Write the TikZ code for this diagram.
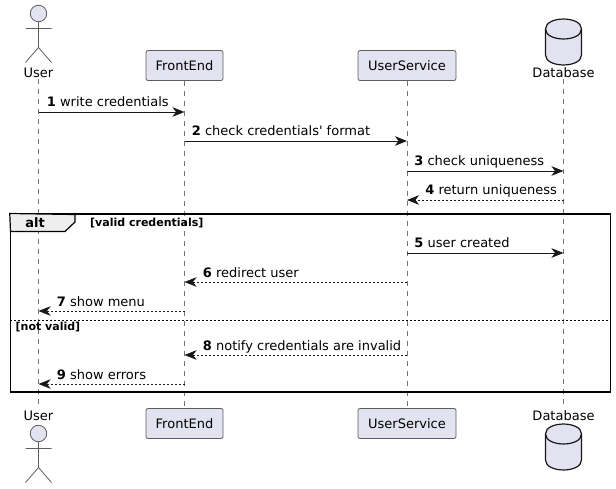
\documentclass[tikz,border=0pt]{standalone}
\usepackage{fontspec}
\setmainfont{DejaVu Sans}[Ligatures=TeXOff]
\usetikzlibrary{arrows.meta,positioning}
\definecolor{partfill}{HTML}{E2E2F0}
\definecolor{partline}{HTML}{181818}
\definecolor{tabfill}{HTML}{EEEEEE}
\begin{document}
\begin{tikzpicture}[
  x=1pt, y=-1pt,
  font=\fontsize{13pt}{15pt}\selectfont,
  part/.style={draw=partline!70, fill=partfill, rounded corners=2pt, line width=0.8pt, minimum height=30pt},
  plainlbl/.style={inner sep=1.5pt},
  lifeline/.style={draw=partline!60, line width=0.6pt, dash pattern=on 5pt off 5pt},
  msgsolid/.style={-{Stealth[length=12pt,width=9.5pt,inset=3.5pt]}, draw=partline, line width=0.8pt},
  msgdash/.style={msgsolid, dash pattern=on 2pt off 2pt},
  msglbl/.style={anchor=base west, inner sep=0pt, yshift=5pt},
  altbox/.style={draw=black, line width=1.5pt, inner sep=0pt},
  condlbl/.style={font=\fontsize{11pt}{13pt}\selectfont\bfseries, inner sep=0pt, anchor=base west},
  stickman/.pic={
    \node[circle, draw=partline!70, fill=partfill, line width=0.8pt, minimum size=16.5pt, inner sep=0pt] (-head) at (0,0) {};
    \draw[partline!70, line width=0.8pt] (-head.south) -- (0,34) (-13,15) -- (13,15) (-13,49) -- (0,34) -- (13,49);
  },
  drum/.pic={
    \draw[draw=partline, fill=partfill, line width=1.2pt] (-18,-13) .. controls (-18,-26.3) and (18,-26.3) .. (18,-13) -- (18,13) .. controls (18,26.3) and (-18,26.3) .. (-18,13) -- cycle;
    \draw[draw=partline, line width=1.2pt] (-18,-13) .. controls (-18,0.3) and (18,0.3) .. (18,-13);
  },
]
\useasboundingbox (0,0) rectangle (616,489);
% top row
\pic (usertop) at (38.5,13.5) {stickman};
\node[plainlbl] (user) at (38.5,72.5) {User};
\node[part, minimum width=77pt] (front) at (184.5,65.5) {FrontEnd};
\node[part, minimum width=98pt] (service) at (407,65.5) {UserService};
\pic (dbtop) at (563.5,42) {drum};
\node[plainlbl] (db) at (563.5,72.5) {Database};
% bottom row
\node[plainlbl] (userb) at (38.5,415.5) {User};
\pic (userbot) at (38.5,433.5) {stickman};
\node[part, minimum width=77pt] (frontb) at (184.5,423.5) {FrontEnd};
\node[part, minimum width=98pt] (serviceb) at (407,423.5) {UserService};
\node[plainlbl] (dbb) at (563.5,415.5) {Database};
\pic (dbbot) at (563.5,447) {drum};
% lifelines
\draw[lifeline] (user) -- (userb);
\draw[lifeline] (front) -- (frontb);
\draw[lifeline] (service) -- (serviceb);
\draw[lifeline] (db) -- (dbb);
% alt frame
\node[altbox, minimum width=600pt, minimum height=177.5pt] (altframe) at (310.5,303) {};
\draw[draw=black, fill=tabfill, line width=1.2pt] (altframe.north west) -- (75,214.5) -- (75,222) -- (65,231.5) -- (10.5,231.5) -- cycle;
\node[font=\fontsize{13pt}{15pt}\selectfont\bfseries, inner sep=0pt, anchor=base] (alttag) at (35,228) {alt};
\node[condlbl] (validlbl) at (90,227) {[valid credentials]};
\coordinate (elseleft) at (altframe.west |- 0,320);
\coordinate (elseright) at (altframe.east |- 0,320);
\draw[black, line width=0.8pt, dash pattern=on 2pt off 2pt] (elseleft) -- (elseright);
\node[condlbl] (notvalidlbl) at (15.5,330) {[not valid]};
% messages
\foreach \n/\a/\b/\y/\k/\p/\o/\m in {
  1/user/front/112/msgsolid/0/8/write credentials,
  2/front/service/141/msgsolid/0/7/check credentials' format,
  3/service/db/171/msgsolid/0/7/check uniqueness,
  4/db/service/200/msgdash/1/18/return uniqueness,
  5/service/db/253/msgsolid/0/7/user created,
  6/service/front/282/msgdash/1/18/redirect user,
  7/front/user/311/msgdash/1/18/show menu,
  8/service/front/355/msgdash/1/18/notify credentials are invalid,
  9/front/user/384/msgdash/1/18/show errors}{
  \coordinate (from\n) at (\a |- 0,\y);
  \coordinate (to\n) at (\b |- 0,\y);
  \draw[\k] (from\n) -- node[msglbl, pos=\p, xshift=\o pt]{\textbf{\n} \m} (to\n);
}
\end{tikzpicture}
\end{document}
